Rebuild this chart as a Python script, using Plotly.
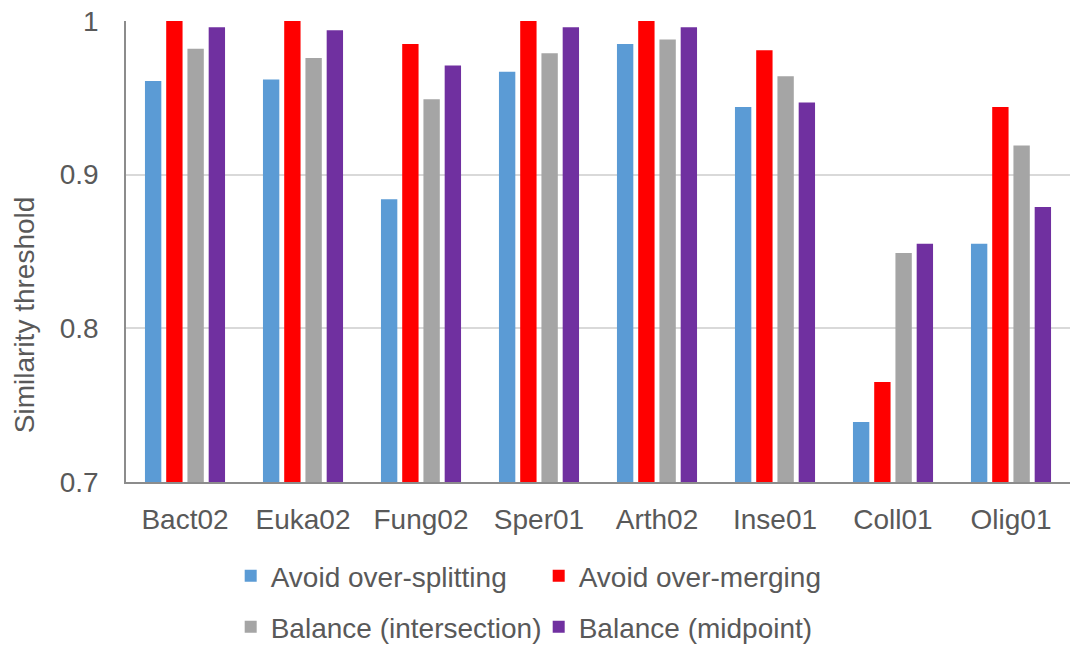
import plotly.graph_objects as go

# Datasets on the x axis
datasets = ["Bact02", "Euka02", "Fung02", "Sper01", "Arth02", "Inse01", "Coll01", "Olig01"]

# Similarity thresholds per strategy
avoid_splitting = [0.961, 0.962, 0.884, 0.967, 0.985, 0.944, 0.739, 0.855]
avoid_merging = [1.000, 1.000, 0.985, 1.000, 1.000, 0.981, 0.765, 0.944]
balance_intersection = [0.982, 0.976, 0.949, 0.979, 0.988, 0.964, 0.849, 0.919]
balance_midpoint = [0.996, 0.994, 0.971, 0.996, 0.996, 0.947, 0.855, 0.879]

y_ticks = [0.7, 0.8, 0.9, 1.0]
y_tick_labels = ["0.7", "0.8", "0.9", "1"]

series = [
    ("Avoid over-splitting", avoid_splitting, "#5B9BD5", "legend"),
    ("Avoid over-merging", avoid_merging, "#FF0000", "legend"),
    ("Balance (intersection)", balance_intersection, "#A5A5A5", "legend2"),
    ("Balance (midpoint)", balance_midpoint, "#7030A0", "legend2"),
]

FONT = "Liberation Sans, Arial, sans-serif"
TEXT = "#595959"

fig = go.Figure()
for name, vals, color, leg in series:
    fig.add_trace(go.Bar(
        x=datasets, y=vals, name=name,
        marker=dict(color=color, line=dict(width=0)),
        legend=leg,
    ))

legend_style = dict(
    orientation="h",
    font=dict(family=FONT, size=28, color=TEXT),
    bgcolor="rgba(0,0,0,0)",
    xref="container", yref="container",
    xanchor="left", yanchor="middle",
    entrywidth=263, entrywidthmode="pixels",
    itemclick=False, itemdoubleclick=False,
    tracegroupgap=0,
)

fig.update_layout(
    width=1073, height=647,
    margin=dict(l=126, r=3, t=21, b=165),
    paper_bgcolor="white", plot_bgcolor="white",
    barmode="group", bargap=0.28, bargroupgap=0.23,
    font=dict(family=FONT, size=28, color=TEXT),
    showlegend=True,
    legend=dict(legend_style, x=0.215, y=1 - 576 / 647),
    legend2=dict(legend_style, x=0.215, y=1 - 627 / 647),
    xaxis=dict(
        showline=True, linecolor="#8C8C8C", linewidth=2,
        showgrid=False, ticks="", ticklabelstandoff=11,
        tickfont=dict(family=FONT, size=28, color=TEXT),
        fixedrange=True,
    ),
    yaxis=dict(
        range=[0.7, 1.0], tickvals=y_ticks, ticktext=y_tick_labels,
        showline=True, linecolor="#8C8C8C", linewidth=1.5,
        showgrid=True, gridcolor="#D9D9D9", gridwidth=1.5,
        zeroline=False, ticks="", ticklabelstandoff=20,
        tickfont=dict(family=FONT, size=28, color=TEXT),
        fixedrange=True,
    ),
    annotations=[dict(
        text="Similarity threshold", textangle=-90,
        xref="paper", yref="paper", x=-0.108, y=0.362,
        xanchor="center", yanchor="middle", showarrow=False,
        font=dict(family=FONT, size=28, color=TEXT),
    )],
)

fig.write_html("out.html", config={"displayModeBar": False})
